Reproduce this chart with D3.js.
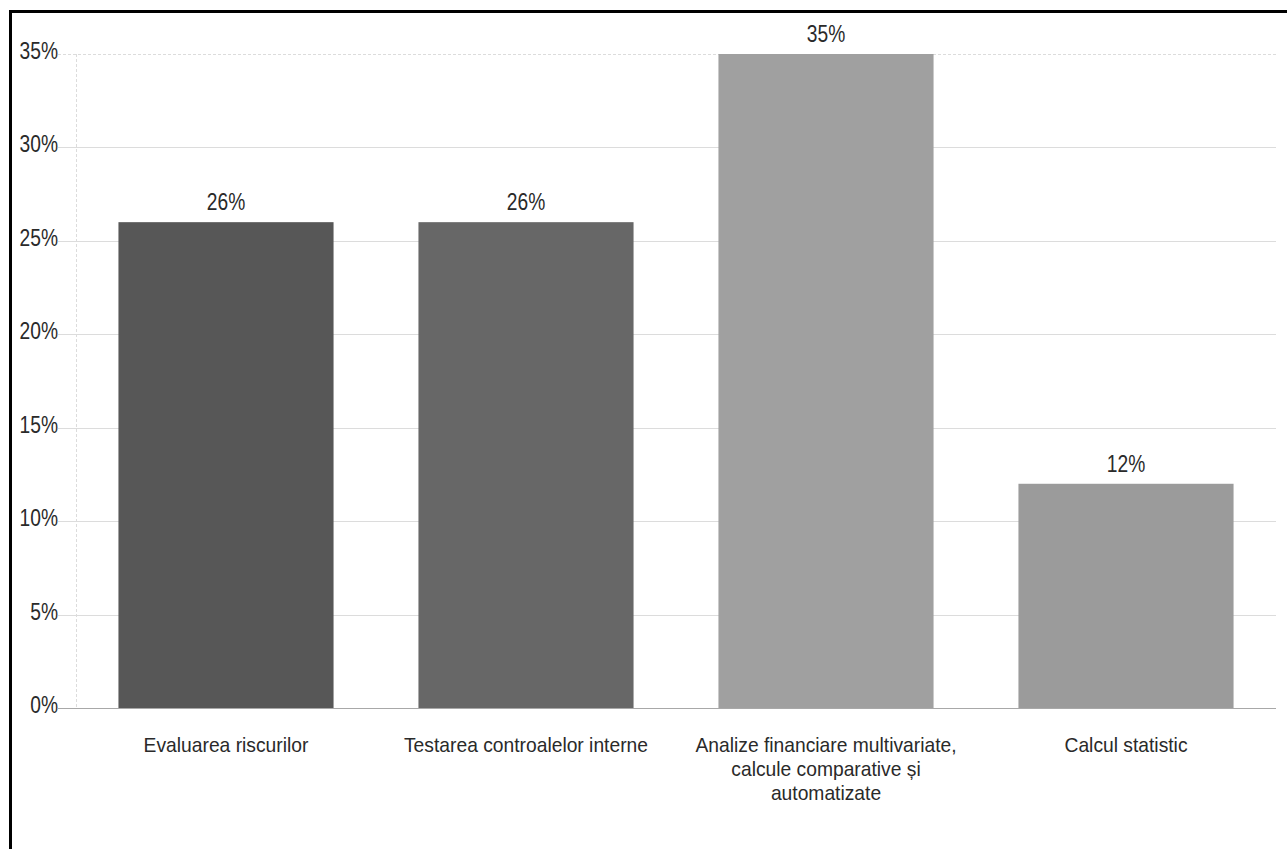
<!DOCTYPE html>
<html>
<head>
<meta charset="utf-8">
<script src="https://cdn.jsdelivr.net/npm/d3@7"></script>
<style>
  html, body { margin: 0; padding: 0; background: #fff; }
  svg { display: block; }
  text { font-family: "Liberation Sans", Arial, sans-serif; fill: #2a2a2a; }
</style>
</head>
<body>
<svg id="chart" width="1287" height="849"></svg>
<script>
// Share of respondents per audit use case
const categories = [
  ["Evaluarea riscurilor"],
  ["Testarea controalelor interne"],
  ["Analize financiare multivariate,", "calcule comparative și", "automatizate"],
  ["Calcul statistic"]
];
const values = [26, 26, 35, 12];
const barColors = ["#575757", "#676767", "#a0a0a0", "#9b9b9b"];
const yTicks = [0, 5, 10, 15, 20, 25, 30, 35];

const W = 1287, H = 849;
const margin = { top: 54, right: 11, bottom: 141, left: 76 };
const FONT = 24, SQUEEZE = 0.8;        // condensed look: tall glyphs, narrow advance
const CAT_FONT = 20.5, CAT_SQUEEZE = 0.94, CAT_LINE = 24;
const svg = d3.select("#chart");

// frame
svg.append("line").attr("x1", 9).attr("x2", W).attr("y1", 11.5).attr("y2", 11.5)
  .attr("stroke", "#000").attr("stroke-width", 3);
svg.append("line").attr("x1", 10.5).attr("x2", 10.5).attr("y1", 10).attr("y2", H)
  .attr("stroke", "#000").attr("stroke-width", 3);

const x = d3.scaleBand()
  .domain(d3.range(values.length))
  .range([margin.left, W - margin.right])
  .paddingInner(0.283)
  .paddingOuter(0.1415);

const y = d3.scaleLinear()
  .domain([0, 35])
  .range([H - margin.bottom, margin.top]);

// horizontal gridlines
svg.append("g").selectAll("line")
  .data(yTicks.filter(t => t > 0))
  .join("line")
  .attr("x1", margin.left - 18).attr("x2", W - margin.right)
  .attr("y1", d => Math.round(y(d)) + 0.5).attr("y2", d => Math.round(y(d)) + 0.5)
  .attr("stroke", "#dcdcdc")
  .attr("stroke-width", 1)
  .attr("stroke-dasharray", d => d === 35 ? "3,2" : null);

// vertical axis line (dashed)
svg.append("line")
  .attr("x1", margin.left + 0.5).attr("x2", margin.left + 0.5)
  .attr("y1", y(35)).attr("y2", y(0))
  .attr("stroke", "#dcdcdc").attr("stroke-dasharray", "3,2");

// condensed text helper
function label(sel, tx, ty, size = FONT, squeeze = SQUEEZE) {
  return sel.attr("transform", (d, i) => `translate(${tx(d, i)},${ty(d, i)}) scale(${squeeze},1)`)
    .attr("font-size", size);
}

// y tick labels
label(svg.append("g").selectAll("text").data(yTicks).join("text"),
    () => margin.left - 18, d => y(d) + 5)
  .attr("text-anchor", "end")
  .text(d => d + "%");

// bars
svg.append("g").selectAll("rect")
  .data(values)
  .join("rect")
  .attr("x", (d, i) => x(i))
  .attr("y", d => y(d))
  .attr("width", x.bandwidth())
  .attr("height", d => y(0) - y(d))
  .attr("fill", (d, i) => barColors[i]);

// baseline
svg.append("line")
  .attr("x1", margin.left - 18).attr("x2", W - margin.right)
  .attr("y1", Math.round(y(0)) + 0.5).attr("y2", Math.round(y(0)) + 0.5)
  .attr("stroke", "#a8a8a8");

// value labels
label(svg.append("g").selectAll("text").data(values).join("text"),
    (d, i) => x(i) + x.bandwidth() / 2, d => y(d) - 12)
  .attr("text-anchor", "middle")
  .text(d => d + "%");

// category labels
const cat = label(svg.append("g").selectAll("text").data(categories).join("text"),
    (d, i) => x(i) + x.bandwidth() / 2, () => y(0) + 44, CAT_FONT, CAT_SQUEEZE)
  .attr("text-anchor", "middle");
cat.selectAll("tspan")
  .data(d => d)
  .join("tspan")
  .attr("x", 0)
  .attr("dy", (d, i) => i === 0 ? 0 : CAT_LINE)
  .text(d => d);
</script>
</body>
</html>
